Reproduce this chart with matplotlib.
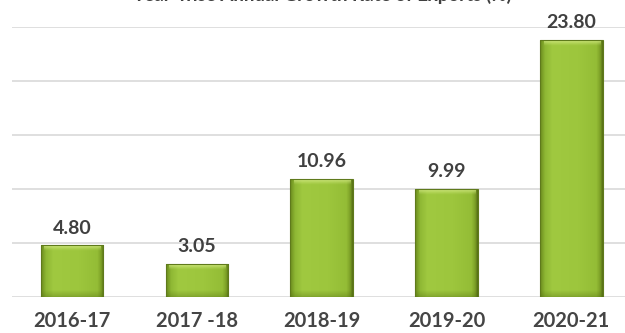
import numpy as np
import matplotlib.pyplot as plt
from matplotlib.colors import LinearSegmentedColormap, to_rgb

years = ['2016-17', '2017 -18', '2018-19', '2019-20', '2020-21']
growth = [4.80, 3.05, 10.96, 9.99, 23.80]
title = 'Year-wise Annual Growth Rate of Exports (%)'

plt.rcParams['font.family'] = ['Lato', 'DejaVu Sans']

fig = plt.figure(figsize=(6.25, 3.33), dpi=100)
ax = fig.add_axes([12 / 625, 36 / 333, 613 / 625, 270 / 333])

x = np.arange(len(years))
ax.set_xlim(-0.48, 4.43)
ax.set_ylim(0, 25)

for y in range(0, 26, 5):
    ax.axhline(y, color='#d9d9d9', lw=1.2, zorder=0)

bars = ax.bar(x, growth, width=0.5, color='none', edgecolor='#5f7a1c', lw=0.8, zorder=3)

# side-to-side shading for the bars: dark left band, flat face, thin dark right edge
side = LinearSegmentedColormap.from_list('side', [
    (0.0, '#6c8c1e'), (0.08, '#8fb834'), (0.2, '#a0c940'), (0.6, '#9dc63d'),
    (0.9, '#94bd36'), (0.96, '#7c9f26'), (1.0, '#566f16')])
grad = np.linspace(0, 1, 200).reshape(1, -1)

# light bevel along the top, fading out downwards
cap_rgb = to_rgb('#d6ec86')
fade = np.zeros((40, 1, 4))
fade[..., :3] = cap_rgb
fade[:, 0, 3] = np.linspace(0.95, 0.0, 40) ** 1.3

# darker shade near the base
base = np.zeros((40, 1, 4))
base[..., :3] = to_rgb('#4f6a12')
base[:, 0, 3] = np.linspace(0.0, 0.35, 40)

for b in bars:
    x0, w, h = b.get_x(), b.get_width(), b.get_height()
    im = ax.imshow(grad, cmap=side, aspect='auto', extent=[x0, x0 + w, 0, h], zorder=2)
    im.set_clip_path(b)
    cap = 0.55
    ax.imshow(fade, aspect='auto', extent=[x0 + 0.03, x0 + w - 0.015, h - cap, h], zorder=2.5)
    low = ax.imshow(base, aspect='auto', extent=[x0, x0 + w, 0, min(0.6, h * 0.3)], zorder=2.5)
    low.set_clip_path(b)
    ax.text(x0 + w / 2, h + 0.8, f'{h:.2f}', ha='center', va='bottom',
            fontsize=14, fontweight='bold', color='#404040')

ax.set_xticks(x)
ax.set_xticklabels(years, fontsize=14.5, fontweight='bold', color='#454545')
ax.tick_params(axis='x', length=0, pad=10)
ax.set_yticks([])
for s in ax.spines.values():
    s.set_visible(False)

# heading sits mostly above the top edge
fig.text(0.515, 1 - 1 / 333, title, ha='center', va='baseline', fontsize=13.5, fontweight='bold', color='#404040')

fig.savefig('out.png', dpi=100)
